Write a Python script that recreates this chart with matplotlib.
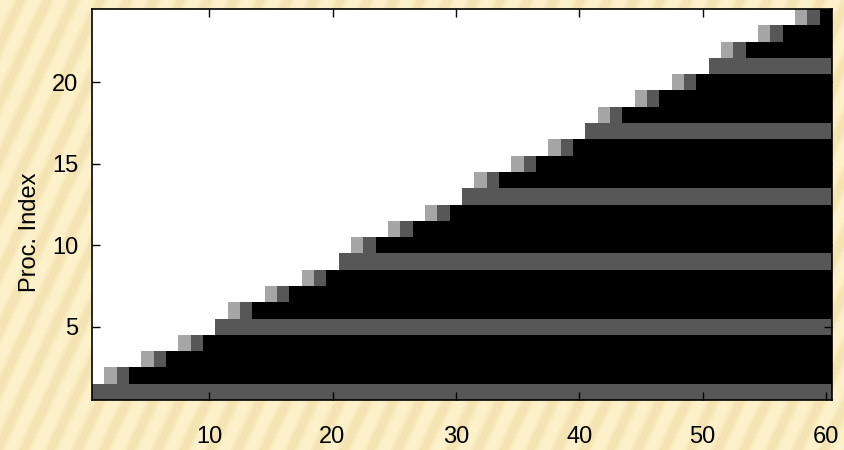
import numpy as np
import matplotlib as mpl

mpl.use('agg')

import matplotlib.pyplot as plt
from matplotlib.colors import ListedColormap

# state of each processor row (bottom row = proc 1)
proc = list(range(1, 25))
# column where each row's activity front starts
start_col = [1, 2, 5, 8, 11, 12, 15, 18, 21, 22, 25, 28,
             31, 32, 35, 38, 41, 42, 45, 48, 51, 52, 55, 58]
# rows that are fully in the sync state (dark band) from start_col on
sync_row = [1, 5, 9, 13, 17, 21]
n_cols = 60

xticks = [10, 20, 30, 40, 50, 60]
yticks = [5, 10, 15, 20]

# 0 = idle (white), 1 = start (light gray), 2 = sync (dark gray), 3 = busy (black)
grid = np.zeros((len(proc), n_cols))
for i, p in enumerate(proc):
    s = start_col[i] - 1
    if p in sync_row:
        grid[i, s:] = 2
    else:
        grid[i, s] = 1
        grid[i, s + 1] = 2
        grid[i, s + 2:] = 3

cmap = ListedColormap(['#ffffff', '#a6a6a6', '#575757', '#000000'])

plt.rcParams['font.family'] = ['Liberation Sans', 'DejaVu Sans']

fig = plt.figure(figsize=(8.44, 4.5), dpi=100)
fig.patch.set_facecolor('#fbefc6')

# slide background: soft diagonal stripes
bg = fig.add_axes([0, 0, 1, 1])
yy, xx = np.mgrid[0:450, 0:844]
tex = np.sin((xx * 0.9 + yy * 0.42) * 2 * np.pi / 24.0)
bg.imshow(tex, cmap=ListedColormap(['#f4e4b3', '#f8eabe', '#fbefc6', '#fcf1ca']),
          aspect='auto', interpolation='bilinear')
bg.axis('off')

ax = fig.add_axes([92 / 844, 50 / 450, 740 / 844, 391 / 450])
ax.imshow(grid, cmap=cmap, vmin=0, vmax=3, origin='lower', aspect='auto',
          interpolation='nearest',
          extent=[0.5, n_cols + 0.5, 0.5, len(proc) + 0.5])
ax.set_xlim(0.5, n_cols + 0.5)
ax.set_ylim(0.5, len(proc) + 0.5)
ax.set_xticks(xticks)
ax.set_yticks(yticks)
ax.tick_params(direction='in', top=True, right=True, length=6, width=1,
               labelsize=17, colors='black')
ax.tick_params(axis='x', pad=19)
ax.tick_params(axis='y', pad=10)
for sp in ax.spines.values():
    sp.set_linewidth(1.2)
    sp.set_color('black')
ax.set_ylabel('Proc. Index', fontsize=17)
ax.yaxis.set_label_coords(-0.069, 0.43)

fig.savefig('out.png', dpi=100, facecolor=fig.get_facecolor())
